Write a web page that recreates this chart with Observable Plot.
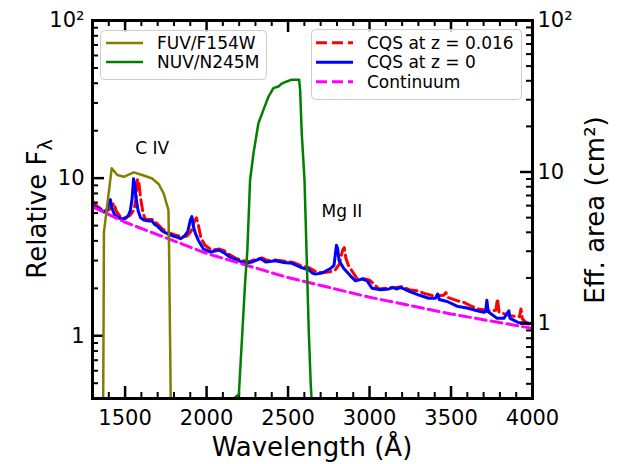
<!DOCTYPE html>
<html><head><meta charset="utf-8">
<script src="https://cdn.jsdelivr.net/npm/d3@7"></script>
<script src="https://cdn.jsdelivr.net/npm/@observablehq/plot@0.6"></script>
<style>
body{margin:0;background:#fff;}
#wrap{position:relative;width:620px;height:464px;font-family:"DejaVu Sans",sans-serif;}
#wrap svg{position:absolute;left:0;top:0;}
</style></head><body><div id="wrap"></div>
<script>
// ---- data ----
// CQS composite at z = 0 : [wavelength (Å), relative F_lambda]
const cqsZ0 = [[1300,6.8],[1308,6.64],[1330,6.45],[1349,6.33],[1370,6.1],[1385,6.15],[1400,6.9],[1410,7.3],[1420,6.4],[1435,5.89],[1455,5.65],[1472,5.53],[1502,5.55],[1520,5.8],[1532,6.2],[1543,7.4],[1552,9.9],[1559,9.2],[1567,7.5],[1580,6.2],[1595,5.6],[1615,5.42],[1645,5.34],[1666,5.34],[1680,5.1],[1697,4.97],[1728,4.62],[1768,4.4],[1809,4.25],[1840,4.13],[1865,4.3],[1885,4.6],[1900,5.4],[1910,5.7],[1920,4.9],[1932,4.45],[1952,3.99],[1982,3.54],[2024,3.4],[2050,3.45],[2075,3.5],[2105,3.37],[2147,3.14],[2208,2.96],[2239,2.89],[2280,2.94],[2331,3.09],[2362,2.94],[2400,2.97],[2423,2.99],[2474,2.92],[2525,2.88],[2576,2.72],[2627,2.62],[2650,2.5],[2668,2.46],[2709,2.5],[2760,2.67],[2782,2.8],[2797,3.75],[2804,3.6],[2813,3.0],[2842,2.67],[2883,2.4],[2914,2.23],[2955,2.29],[2985,2.23],[3016,2.0],[3067,1.96],[3118,1.98],[3139,2.03],[3169,1.98],[3190,2.03],[3251,1.9],[3312,1.8],[3363,1.73],[3404,1.73],[3418,1.84],[3428,1.7],[3476,1.65],[3537,1.54],[3599,1.5],[3660,1.44],[3701,1.41],[3712,1.42],[3720,1.68],[3728,1.42],[3783,1.29],[3824,1.29],[3855,1.44],[3862,1.29],[3916,1.21],[3957,1.21],[4000,1.19]];
// CQS composite redshifted to z = 0.016
const cqsZ016 = [[1300,7.1],[1308,7.0],[1330,6.6],[1350,6.4],[1375,6.2],[1400,6.3],[1420,6.7],[1431,6.95],[1445,6.2],[1470,5.7],[1500,5.6],[1530,5.8],[1555,6.3],[1566,7.3],[1576,9.8],[1584,9.5],[1595,7.5],[1610,6.0],[1625,5.47],[1666,5.47],[1700,5.1],[1730,4.75],[1770,4.5],[1810,4.35],[1850,4.25],[1880,4.3],[1905,4.6],[1925,5.3],[1938,5.6],[1950,5.0],[1965,4.2],[1990,3.75],[2030,3.5],[2080,3.55],[2110,3.45],[2137,3.29],[2180,3.1],[2220,3.0],[2260,2.95],[2300,3.05],[2340,3.12],[2375,3.0],[2420,3.02],[2480,2.97],[2530,2.92],[2580,2.78],[2630,2.7],[2680,2.52],[2720,2.52],[2760,2.55],[2790,2.62],[2815,2.85],[2835,3.5],[2845,3.63],[2855,3.1],[2870,2.8],[2895,2.55],[2924,2.3],[2966,2.3],[3000,2.25],[3027,2.13],[3057,1.98],[3100,2.0],[3150,2.02],[3200,2.05],[3250,1.95],[3292,1.93],[3340,1.85],[3394,1.79],[3455,1.81],[3469,1.88],[3480,1.75],[3537,1.67],[3578,1.63],[3620,1.55],[3660,1.48],[3742,1.44],[3775,1.45],[3785,1.72],[3795,1.41],[3865,1.34],[3920,1.32],[3929,1.48],[3938,1.28],[3967,1.19],[4000,1.18]];
// power-law continuum
const continuum = [[1300,6.58],[1500,5.25],[2000,3.33],[2500,2.34],[3000,1.756],[3500,1.376],[4000,1.114]];
// filter effective areas: [wavelength (Å), cm^2]
const fuvF154W = [[1362,0.1],[1366,0.4],[1368,1.0],[1370,4.0],[1418,10.6],[1452,9.55],[1492,9.3],[1553,9.95],[1605,9.55],[1666,9.06],[1707,8.3],[1737,7.2],[1766,5.6],[1770,3.0],[1780,0.32],[1784,0.1]];
const nuvN245M = [[2140,0.28],[2150,0.31],[2190,0.335],[2198,0.34],[2237,1.9],[2250,3.0],[2267,8.85],[2288,13.3],[2318,21],[2349,25.7],[2380,31.5],[2410,35.8],[2441,36.7],[2461,38.3],[2492,39.6],[2523,40.7],[2568,40.7],[2574,35],[2584,18],[2601,8.85],[2627,0.9],[2639,0.4],[2650,0.25]];
// line annotations
const lineLabels = [{x:1562,y:14.3,text:"C IV"},{x:2705,y:5.7,text:"Mg II"}];
// ticks
const xTicks = [1500,2000,2500,3000,3500,4000];
const yTicks = [1,10,100];
const rightTicks = [1,10,100];

// ---- layout ----
const W=620,H=464,mL=92,mR=88,mT=20,mB=66;
const iW=W-mL-mR, iH=H-mT-mB;
const font='"DejaVu Sans", sans-serif';
const fmt = v => v===100 ? "10\u00b2" : String(v);
const xMinor = d3.range(1300,4001,100).filter(v=>v%500!==0);
const logMinor = lo => [...d3.range(2,10).map(v=>v/10), ...d3.range(2,10), ...d3.range(20,100,10)].filter(v=>v>=lo);
const X = d=>d[0], Y = d=>d[1];
const base = {width:W,height:H,marginLeft:mL,marginRight:mR,marginTop:mT,marginBottom:mB,
  style:{fontFamily:font,background:"transparent",overflow:"visible",color:"#000"}};

const left = Plot.plot({...base,
  x:{domain:[1300,4000]},
  y:{type:"log",domain:[0.4,100]},
  marks:[
    Plot.line(cqsZ016,{x:X,y:Y,stroke:"#ff0000",strokeWidth:3,strokeDasharray:"11,5",clip:true}),
    Plot.line(cqsZ0,{x:X,y:Y,stroke:"#0000ff",strokeWidth:3,clip:true}),
    Plot.line(continuum,{x:X,y:Y,stroke:"#ff00ff",strokeWidth:3,strokeDasharray:"11,5",clip:true}),
    Plot.text(lineLabels,{x:"x",y:"y",text:"text",textAnchor:"start",lineAnchor:"bottom",fontSize:17,fill:"#000"}),
    Plot.tickY(yTicks,{y:d=>d,insetRight:iW-12,strokeWidth:2.5}),
    Plot.tickY(logMinor(0.4),{y:d=>d,insetRight:iW-6,strokeWidth:2}),
    Plot.tickX(xTicks,{x:d=>d,insetTop:iH-12,strokeWidth:2.5}),
    Plot.tickX(xTicks,{x:d=>d,insetBottom:iH-12,strokeWidth:2.5}),
    Plot.tickX(xMinor,{x:d=>d,insetTop:iH-6,strokeWidth:2}),
    Plot.tickX(xMinor,{x:d=>d,insetBottom:iH-6,strokeWidth:2}),
    Plot.axisY({ticks:yTicks,anchor:"left",tickSize:0,tickPadding:8,tickFormat:fmt,fontSize:21,label:null}),
    Plot.axisX({ticks:xTicks,anchor:"bottom",tickSize:0,tickPadding:12,tickFormat:d=>String(d),fontSize:21,label:null})
  ]});

const right = Plot.plot({...base,
  x:{domain:[1300,4000],axis:null},
  y:{type:"log",domain:[0.32,100]},
  marks:[
    Plot.line(fuvF154W,{x:X,y:Y,stroke:"#808000",strokeWidth:2.5,clip:true}),
    Plot.line(nuvN245M,{x:X,y:Y,stroke:"#008000",strokeWidth:2.5,clip:true}),
    Plot.tickY(rightTicks,{y:d=>d,insetLeft:iW-12,strokeWidth:2.5}),
    Plot.tickY(logMinor(0.32),{y:d=>d,insetLeft:iW-6,strokeWidth:2}),
    Plot.axisY({ticks:rightTicks,anchor:"right",tickSize:0,tickPadding:5,tickFormat:fmt,fontSize:21,label:null}),
    Plot.frame({stroke:"#000",strokeWidth:3})
  ]});

const wrap=document.getElementById("wrap");
wrap.appendChild(left);
wrap.appendChild(right);

// axis titles + legends (overlay svg)
const ov = d3.select(wrap).append("svg").attr("width",W).attr("height",H)
  .style("font-family",font).style("overflow","visible");
const yl = ov.append("text").attr("transform","translate(46,209) rotate(-90)")
  .attr("text-anchor","middle").attr("font-size",26).attr("fill","#000");
yl.append("tspan").text("Relative F");
yl.append("tspan").attr("dy",6).attr("font-size",19).text("\u03bb");
ov.append("text").attr("transform","translate(604,210) rotate(-90)")
  .attr("text-anchor","middle").attr("font-size",26).attr("fill","#000").text("Eff. area (cm\u00b2)");
ov.append("text").attr("x",312).attr("y",456).attr("text-anchor","middle")
  .attr("font-size",26).attr("fill","#000").text("Wavelength (\u00c5)");

function legend(x,y,w,h,items,lx,tx,rows){
  ov.append("rect").attr("x",x).attr("y",y).attr("width",w).attr("height",h).attr("rx",4)
    .attr("fill","rgba(255,255,255,0.8)").attr("stroke","#cccccc").attr("stroke-width",1);
  items.forEach((it,i)=>{
    ov.append("line").attr("x1",lx).attr("x2",lx+37).attr("y1",rows[i]).attr("y2",rows[i])
      .attr("stroke",it.color).attr("stroke-width",it.w).attr("stroke-dasharray",it.dash||null);
    ov.append("text").attr("x",tx).attr("y",rows[i]+6).attr("font-size",17).attr("fill","#000").text(it.label);
  });
}
legend(100.5,30.5,166,49,[
  {label:"FUV/F154W",color:"#808000",w:2.5},
  {label:"NUV/N245M",color:"#008000",w:2.5}],106,157,[43,62]);
legend(311.5,29.5,210,70,[
  {label:"CQS at z = 0.016",color:"#ff0000",w:3,dash:"11,5"},
  {label:"CQS at z = 0",color:"#0000ff",w:3},
  {label:"Continuum",color:"#ff00ff",w:3,dash:"11,5"}],316,367,[42.7,62.3,81.7]);
</script></body></html>
